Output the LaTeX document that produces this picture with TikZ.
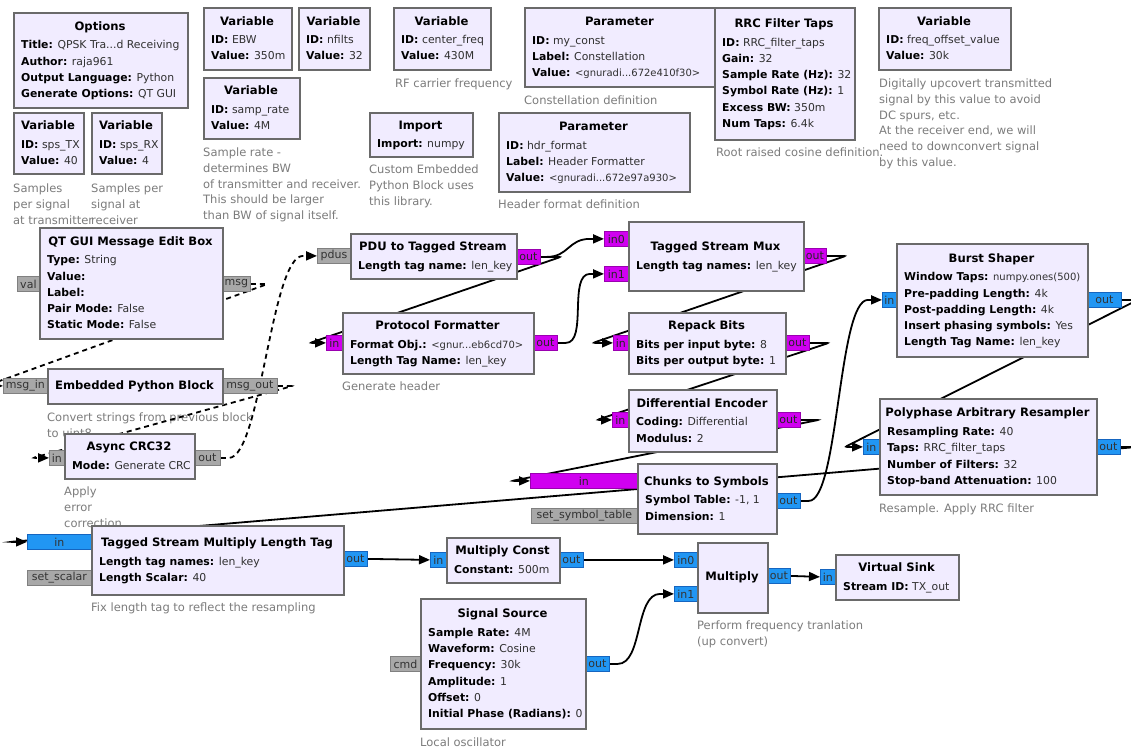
\documentclass[tikz,border=0pt]{standalone}
\usepackage{fontspec}
\setmainfont{DejaVu Sans}
\usetikzlibrary{arrows.meta,calc}

\definecolor{blockfill}{HTML}{F1ECFF}
\definecolor{blockline}{HTML}{6A6A6A}
\definecolor{bytefill}{HTML}{D000F0}
\definecolor{byteline}{HTML}{9A00B0}
\definecolor{cplxfill}{HTML}{2196F3}
\definecolor{cplxline}{HTML}{1565C0}
\definecolor{msgfill}{HTML}{A8A8A8}
\definecolor{msgline}{HTML}{808080}
\definecolor{notegray}{HTML}{7C7C7C}
\definecolor{valgray}{HTML}{303030}

\pgfdeclarelayer{paper}
\pgfdeclarelayer{notes}
\pgfdeclarelayer{wires}
\pgfsetlayers{paper,notes,wires,main}

\newcommand\grctitlefont{\fontsize{11.6}{14}\selectfont\bfseries}
\newcommand\grcparamfont{\fontsize{10.85}{13}\selectfont}
\newcommand\grcportfont{\fontsize{11}{13}\selectfont}
\newcommand\grcnotefont{\fontsize{11.5}{14}\selectfont}
\newcommand\grcsmall{\fontsize{10}{12}\selectfont}
\newcommand\grckey[1]{\textbf{\textcolor{black}{#1}}}
\newcommand\grcdots{...}

\tikzset{
  blockbox/.style={draw=blockline, fill=blockfill, line width=2pt, inner sep=0pt},
  blocktitle/.style={font=\grctitlefont, text=black, inner sep=0pt},
  paramtext/.style={font=\grcparamfont, text=valgray, inner sep=0pt},
  notetext/.style={font=\grcnotefont, text=notegray, inner sep=0pt},
  portbox/.style={inner sep=0pt, minimum height=15pt, line width=0.8pt, font=\grcportfont, text=black!80},
  byteport/.style={portbox, draw=byteline, fill=bytefill, text=black!85},
  cplxport/.style={portbox, draw=cplxline, fill=cplxfill},
  msgport/.style={portbox, draw=msgline, fill=msgfill},
  wire/.style={line width=1.8pt, black, -{Triangle[length=11pt,width=9pt]}},
  backwire/.style={wire, rounded corners=2pt},
  msgwire/.style={wire, dash pattern=on 5pt off 4pt},
  backmsgwire/.style={msgwire, rounded corners=2pt},
}

% block: name, x, y, width, height, number of parameter lines, title, parameter lines
\newcommand\grcblock[8]{%
  \node[blockbox, minimum width=#4pt, minimum height=#5pt, anchor=north west] (#1) at (#2,#3) {};
  \pgfmathsetmacro\grctcy{#3+#5/2-(18.5+16.3*(#6-1))/2}
  \node[blocktitle, anchor=base] (#1-title) at ({#2+#4/2},{\grctcy+4.6}) {#7};
  \ifnum#6>0
    \foreach \grcline [count=\grcidx] in {#8} {
      \node[paramtext, anchor=base west] (#1-p\grcidx) at ({#2+8},{\grctcy+4.6+18.5+16.3*(\grcidx-1)}) {\grcline};
    }
  \fi
}
% port: name, x, y, width, style, label
\newcommand\grcport[6]{\node[#5, minimum width=#4pt, anchor=north west] (#1) at (#2,#3) {#6};}
% comment: name, x, y of first line, lines
\newcommand\grcnote[4]{%
  \foreach \grcline [count=\grcidx] in {#4} {
    \node[notetext, anchor=base west] (#1-\grcidx) at (#2,{#3+3.8+15.7*(\grcidx-1)}) {\grcline};
  }
}

\begin{document}
\begin{tikzpicture}[x=1pt,y=-1pt]
\begin{pgfonlayer}{paper}
\fill[white] (0,0) rectangle (1131,751);
\end{pgfonlayer}
\useasboundingbox (0,0) rectangle (1131,751);

% ---------- comments ----------
\begin{pgfonlayer}{notes}
\grcnote{n-spstx}{13}{189}{{Samples},{per signal},{at transmitter}}
\grcnote{n-spsrx}{91}{189}{{Samples per},{signal at},{receiver}}
\grcnote{n-samp}{203}{153}{{Sample rate -},{determines BW},{of transmitter and receiver.},{This should be larger},{than BW of signal itself.}}
\grcnote{n-cfreq}{395}{84}{{RF carrier frequency}}
\grcnote{n-const}{524}{101}{{Constellation definition}}
\grcnote{n-imp}{369}{170}{{Custom Embedded},{Python Block uses},{this library.}}
\grcnote{n-hdr}{498}{205}{{Header format definition}}
\grcnote{n-rrc}{716}{153}{{Root raised cosine definition.}}
\grcnote{n-foff}{879}{84}{{Digitally upcovert transmitted},{signal by this value to avoid},{DC spurs, etc.},{At the receiver end, we will},{need to downconvert signal},{by this value.}}
\grcnote{n-epb}{47}{418}{{Convert strings from previous block},{to uint8}}
\grcnote{n-crc}{64}{492}{{Apply},{error},{correction}}
\grcnote{n-pf}{342}{387}{{Generate header}}
\grcnote{n-poly}{879}{509}{{Resample. Apply RRC filter}}
\grcnote{n-tsm}{91}{608}{{Fix length tag to reflect the resampling}}
\grcnote{n-mul}{697}{626}{{Perform frequency tranlation},{(up convert)}}
\grcnote{n-ss}{420}{743}{{Local oscillator}}
\end{pgfonlayer}

% ---------- ports ----------
\grcport{qt-val}{17}{276}{22}{msgport}{val}
\grcport{qt-msg}{222}{276}{28}{msgport}{msg}
\grcport{epb-in}{3}{378}{44}{msgport}{msg\_in}
\grcport{epb-out}{222}{378}{55}{msgport}{msg\_out}
\grcport{crc-in}{49}{450}{15}{msgport}{in}
\grcport{crc-out}{194}{450}{26}{msgport}{out}
\grcport{pdu-in}{317}{248}{33}{msgport}{pdus}
\grcport{pdu-out}{516}{249}{24}{byteport}{out}
\grcport{pf-in}{326}{335}{16}{byteport}{in}
\grcport{pf-out}{533}{335}{24}{byteport}{out}
\grcport{mux-in0}{604}{231}{24}{byteport}{in0}
\grcport{mux-in1}{604}{266}{24}{byteport}{in1}
\grcport{mux-out}{803}{248}{23}{byteport}{out}
\grcport{rp-in}{613}{335}{15}{byteport}{in}
\grcport{rp-out}{785}{335}{24}{byteport}{out}
\grcport{de-in}{612}{412}{16}{byteport}{in}
\grcport{de-out}{776}{412}{24}{byteport}{out}
\grcport{ch-in}{530}{473}{107}{byteport}{in}
\grcport{ch-sym}{531}{508}{106}{msgport}{set\_symbol\_table}
\grcport{ch-out}{776}{493}{24}{cplxport}{out}
\grcport{bs-in}{882}{292}{14}{cplxport}{in}
\grcport{bs-out}{1087}{292}{34}{cplxport}{out}
\grcport{poly-in}{863}{439}{16}{cplxport}{in}
\grcport{poly-out}{1096}{439}{24}{cplxport}{out}
\grcport{tsm-in}{27}{534}{64}{cplxport}{in}
\grcport{tsm-sc}{27}{570}{64}{msgport}{set\_scalar}
\grcport{tsm-out}{343}{551}{24}{cplxport}{out}
\grcport{mc-in}{430}{552}{16}{cplxport}{in}
\grcport{mc-out}{559}{552}{24}{cplxport}{out}
\grcport{mul-in0}{674}{552}{23}{cplxport}{in0}
\grcport{mul-in1}{674}{586}{23}{cplxport}{in1}
\grcport{mul-out}{767}{568}{23}{cplxport}{out}
\grcport{vs-in}{820}{569}{15}{cplxport}{in}
\grcport{ss-cmd}{390}{656}{30}{msgport}{cmd}
\grcport{ss-out}{585}{656}{24}{cplxport}{out}

% ---------- blocks ----------
\grcblock{options}{13}{12}{174}{95}{4}{Options}{{\grckey{Title:} QPSK Tra\grcdots d Receiving},{\grckey{Author:} raja961},{\grckey{Output Language:} Python},{\grckey{Generate Options:} QT GUI}}
\grcblock{spstx}{13}{112}{70}{61}{2}{Variable}{{\grckey{ID:} sps\_TX},{\grckey{Value:} 40}}
\grcblock{spsrx}{91}{112}{70}{61}{2}{Variable}{{\grckey{ID:} sps\_RX},{\grckey{Value:} 4}}
\grcblock{ebw}{203}{7}{88}{62}{2}{Variable}{{\grckey{ID:} EBW},{\grckey{Value:} 350m}}
\grcblock{nfilts}{298}{7}{71}{62}{2}{Variable}{{\grckey{ID:} nfilts},{\grckey{Value:} 32}}
\grcblock{samprate}{203}{77}{96}{61}{2}{Variable}{{\grckey{ID:} samp\_rate},{\grckey{Value:} 4M}}
\grcblock{cfreq}{393}{7}{97}{62}{2}{Variable}{{\grckey{ID:} center\_freq},{\grckey{Value:} 430M}}
\grcblock{myconst}{524}{7}{191}{79}{3}{Parameter}{{\grckey{ID:} my\_const},{\grckey{Label:} Constellation},{\grckey{Value:} {\grcsmall<gnuradi\grcdots 672e410f30>}}}
\grcblock{imp}{369}{112}{103}{44}{1}{Import}{{\grckey{Import:} numpy}}
\grcblock{hdr}{498}{112}{191}{79}{3}{Parameter}{{\grckey{ID:} hdr\_format},{\grckey{Label:} Header Formatter},{\grckey{Value:} {\grcsmall<gnuradi\grcdots 672e97a930>}}}
\grcblock{rrc}{714}{7}{140}{132}{6}{RRC Filter Taps}{{\grckey{ID:} RRC\_filter\_taps},{\grckey{Gain:} 32},{\grckey{Sample Rate (Hz):} 32},{\grckey{Symbol Rate (Hz):} 1},{\grckey{Excess BW:} 350m},{\grckey{Num Taps:} 6.4k}}
\grcblock{foff}{878}{7}{132}{62}{2}{Variable}{{\grckey{ID:} freq\_offset\_value},{\grckey{Value:} 30k}}
\grcblock{qtedit}{39}{227}{183}{111}{5}{QT GUI Message Edit Box}{{\grckey{Type:} String},{\grckey{Value:}},{\grckey{Label:}},{\grckey{Pair Mode:} False},{\grckey{Static Mode:} False}}
\grcblock{epb}{47}{368}{175}{35}{0}{Embedded Python Block}{}
\grcblock{crc}{64}{433}{130}{45}{1}{Async CRC32}{{\grckey{Mode:} Generate CRC}}
\grcblock{pdu}{350}{233}{166}{45}{1}{PDU to Tagged Stream}{{\grckey{Length tag name:} len\_key}}
\grcblock{pf}{342}{312}{191}{61}{2}{Protocol Formatter}{{\grckey{Format Obj.:} {\grcsmall<gnur\grcdots eb6cd70>}},{\grckey{Length Tag Name:} len\_key}}
\grcblock{mux}{628}{221}{175}{69}{1}{Tagged Stream Mux}{{\grckey{Length tag names:} len\_key}}
\grcblock{rp}{628}{312}{157}{61}{2}{Repack Bits}{{\grckey{Bits per input byte:} 8},{\grckey{Bits per output byte:} 1}}
\grcblock{de}{628}{389}{148}{62}{2}{Differential Encoder}{{\grckey{Coding:} Differential},{\grckey{Modulus:} 2}}
\grcblock{ch}{637}{463}{139}{70}{2}{Chunks to Symbols}{{\grckey{Symbol Table:} -1, 1},{\grckey{Dimension:} 1}}
\grcblock{bs}{896}{243}{191}{113}{5}{Burst Shaper}{{\grckey{Window Taps:} {\grcsmall numpy.ones(500)}},{\grckey{Pre-padding Length:} 4k},{\grckey{Post-padding Length:} 4k},{\grckey{Insert phasing symbols:} Yes},{\grckey{Length Tag Name:} len\_key}}
\grcblock{poly}{879}{398}{217}{96}{4}{Polyphase Arbitrary Resampler}{{\grckey{Resampling Rate:} 40},{\grckey{Taps:} RRC\_filter\_taps},{\grckey{Number of Filters:} 32},{\grckey{Stop-band Attenuation:} 100}}
\grcblock{tsm}{91}{525}{252}{69}{2}{Tagged Stream Multiply Length Tag}{{\grckey{Length tag names:} len\_key},{\grckey{Length Scalar:} 40}}
\grcblock{mc}{446}{537}{113}{45}{1}{Multiply Const}{{\grckey{Constant:} 500m}}
\grcblock{mul}{697}{542}{70}{70}{0}{Multiply}{}
\grcblock{vs}{835}{554}{123}{45}{1}{Virtual Sink}{{\grckey{Stream ID:} TX\_out}}
\grcblock{ss}{420}{598}{165}{130}{6}{Signal Source}{{\grckey{Sample Rate:} 4M},{\grckey{Waveform:} Cosine},{\grckey{Frequency:} 30k},{\grckey{Amplitude:} 1},{\grckey{Offset:} 0},{\grckey{Initial Phase (Radians):} 0}}

% ---------- connections ----------
\begin{pgfonlayer}{wires}
% message connections
\draw[backmsgwire] (qt-msg.east) -- ++(17,0) -- ($(epb-in.west)+(-17,0)$) -- (epb-in.west);
\draw[backmsgwire] (epb-out.east) -- ++(15,0) -- ($(crc-in.west)+(-16,0)$) -- (crc-in.west);
\draw[msgwire] (crc-out.east) -- ++(8,0) .. controls +(32,0) and +(-32,0) .. ($(pdu-in.west)+(-14,0)$) -- (pdu-in.west);
% forward stream connections
\draw[wire] (pdu-out.east) -- ++(6,0) .. controls +(22,0) and +(-22,0) .. ($(mux-in0.west)+(-14,0)$) -- (mux-in0.west);
\draw[wire] (pf-out.east) -- ++(8,0) .. controls +(22,0) and +(-22,0) .. ($(mux-in1.west)+(-14,0)$) -- (mux-in1.west);
\draw[wire] (ch-out.east) -- ++(8,0) .. controls +(30,0) and +(-30,0) .. ($(bs-in.west)+(-14,0)$) -- (bs-in.west);
\draw[wire] (ss-out.east) -- ++(8,0) .. controls +(25,0) and +(-25,0) .. ($(mul-in1.west)+(-14,0)$) -- (mul-in1.west);
\draw[wire] (tsm-out.east) -- (mc-in.west);
\draw[wire] (mc-out.east) -- (mul-in0.west);
\draw[wire] (mul-out.east) -- (vs-in.west);
% backward stream connections
\draw[backwire] (pdu-out.east) -- ++(20,0) -- ($(pf-in.west)+(-16,0)$) -- (pf-in.west);
\draw[backwire] (mux-out.east) -- ++(19,0) -- ($(rp-in.west)+(-20,0)$) -- (rp-in.west);
\draw[backwire] (rp-out.east) -- ++(19,0) -- ($(de-in.west)+(-15,0)$) -- (de-in.west);
\draw[backwire] (de-out.east) -- ++(18,0) -- ($(ch-in.west)+(-18,0)$) -- (ch-in.west);
\draw[backwire] (bs-out.east) -- ++(16,0) -- ($(poly-in.west)+(-18,0)$) -- (poly-in.west);
\draw[backwire] (poly-out.east) -- ++(17,0) -- ($(tsm-in.west)+(-17,0)$) -- (tsm-in.west);
\end{pgfonlayer}
\end{tikzpicture}
\end{document}
